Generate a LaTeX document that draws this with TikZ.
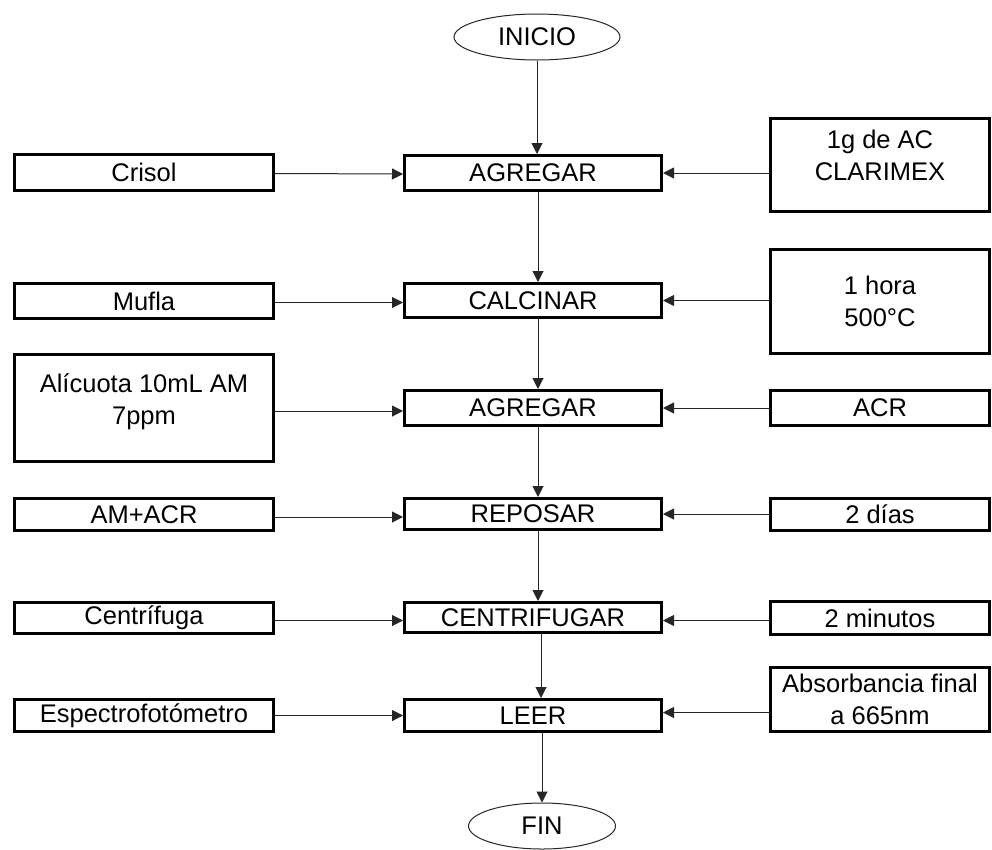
\documentclass[tikz,border=0pt]{standalone}
\usepackage{fontspec}
\setmainfont{Liberation Sans}
\usetikzlibrary{arrows.meta,shapes.geometric}
\begin{document}
\begin{tikzpicture}[x=1pt,y=-1pt,
  every node/.style={font=\fontsize{25.5}{32}\selectfont, inner sep=0pt, align=center},
  procbox/.style={draw=black, line width=3pt, minimum width=257pt, minimum height=#1},
  inbox/.style={draw=black, line width=3pt, minimum width=259pt, minimum height=#1},
  parbox/.style={draw=black, line width=3pt, minimum width=219pt, minimum height=#1},
  term/.style={draw=black!85, line width=1pt, ellipse, minimum width=#1, minimum height=46pt},
  arr/.style={draw=black!85, line width=1pt, -{Triangle[length=11pt,width=11pt]}}
]
\useasboundingbox (0,0) rectangle (992,849);

% main process column
\node[term=166pt] (inicio) at (537,37) {INICIO};
\node[procbox=35pt] (agr1) at (533,173) {AGREGAR};
\node[procbox=34pt] (cal) at (533,300.5) {CALCINAR};
\node[procbox=35pt] (agr2) at (533,408) {AGREGAR};
\node[procbox=31pt] (rep) at (533,514) {REPOSAR};
\node[procbox=30pt] (cen) at (533,617.5) {CENTRIFUGAR};
\node[procbox=32pt] (leer) at (533,715.5) {LEER};
\node[term=147pt] (fin) at (542,826) {FIN};

% materials and equipment (left)
\node[inbox=36pt] (crisol) at (144,172.5) {Crisol};
\node[inbox=35pt] (mufla) at (144,301) {Mufla};
\node[inbox=107pt] (alic) at (144,408) {};
\node (alicT) at (144,402) {Alícuota 10mL AM\\7ppm};
\node[inbox=32pt] (amacr) at (144,514.5) {AM+ACR};
\node[inbox=31pt] (centri) at (144,618) {Centrífuga};
\node[inbox=32pt] (espec) at (144,715.5) {Espectrofotómetro};

% conditions (right)
\node[parbox=93pt] (ac) at (880,165) {};
\node (acT) at (880,155) {1g de AC\\CLARIMEX};
\node[parbox=104pt] (hora) at (880,301.5) {1 hora\\500°C};
\node[parbox=35pt] (acr) at (880,408) {ACR};
\node[parbox=32pt] (dias) at (880,514.5) {2 días};
\node[parbox=33pt] (minut) at (880,618) {2 minutos};
\node[parbox=64pt] (abs) at (880,699.5) {Absorbancia final\\a 665nm};

% vertical flow
\draw[arr] (inicio.south) -- (inicio.south |- agr1.north);
\draw[arr] ([xshift=5pt]agr1.south) -- ([xshift=5pt]cal.north);
\draw[arr] ([xshift=5pt]cal.south) -- ([xshift=5pt]agr2.north);
\draw[arr] ([xshift=5pt]agr2.south) -- ([xshift=5pt]rep.north);
\draw[arr] ([xshift=5pt]rep.south) -- ([xshift=5pt]cen.north);
\draw[arr] ([xshift=8pt]cen.south) -- ([xshift=8pt]leer.north);
\draw[arr] ([xshift=9pt]leer.south) -- (fin.north);

% inputs from the left
\draw[arr] ([yshift=-1pt]crisol.east) -- ([yshift=-1pt]agr1.west);
\draw[arr] ([yshift=-2pt]mufla.east |- cal.west) -- ([yshift=-2pt]cal.west);
\draw[arr] ([yshift=-3pt]alic.east) -- ([yshift=-3pt]agr2.west);
\draw[arr] ([yshift=-3pt]amacr.east |- rep.west) -- ([yshift=-3pt]rep.west);
\draw[arr] ([yshift=-3pt]centri.east |- cen.west) -- ([yshift=-3pt]cen.west);
\draw[arr] (espec.east) -- (leer.west);

% inputs from the right
\draw[arr] (ac.west |- agr1.east) -- (agr1.east);
\draw[arr] (hora.west |- cal.east) -- (cal.east);
\draw[arr] (acr.west) -- (agr2.east);
\draw[arr] (dias.west |- rep.east) -- (rep.east);
\draw[arr] ([yshift=-3pt]minut.west |- cen.east) -- ([yshift=-3pt]cen.east);
\draw[arr] ([yshift=3pt]abs.west |- leer.east) -- ([yshift=3pt]leer.east);
\end{tikzpicture}
\end{document}
